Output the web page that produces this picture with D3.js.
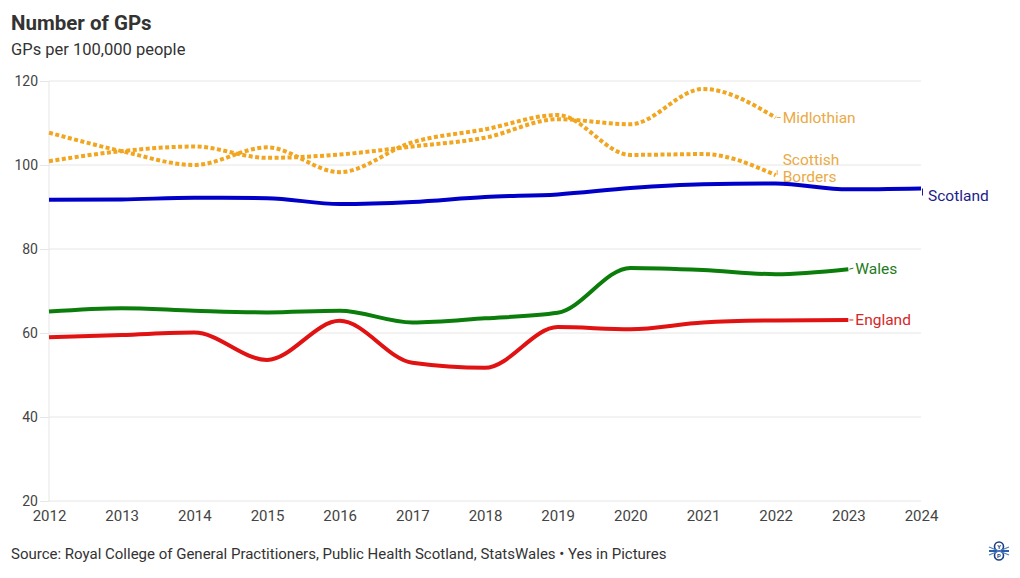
<!DOCTYPE html>
<html>
<head>
<meta charset="utf-8">
<script src="https://cdn.jsdelivr.net/npm/d3@7"></script>
<style>
  body { margin: 0; background: #fff; }
  svg { font-family: Roboto, "Noto Sans", sans-serif; }
</style>
</head>
<body>
<svg id="chart" width="1020" height="578"></svg>
<script>
'use strict';

// GPs per 100,000 people
const yearsScotland = d3.range(2012, 2025);
const yearsUK = d3.range(2012, 2024);
const yearsBoards = d3.range(2012, 2023);

const scotland = [91.7, 91.8, 92.2, 92.1, 90.7, 91.2, 92.4, 93.0, 94.5, 95.4, 95.6, 94.2, 94.4];
const wales = [65.1, 65.9, 65.3, 64.9, 65.3, 62.5, 63.5, 64.8, 75.5, 75.0, 74.0, 75.2];
const england = [59.0, 59.5, 60.1, 53.6, 62.9, 52.9, 51.7, 61.4, 60.9, 62.5, 63.0, 63.1];
const midlothian = [100.9, 103.3, 104.4, 101.7, 102.5, 104.4, 106.5, 110.9, 109.7, 118.1, 111.3];
const borders = [107.7, 103.3, 100.0, 104.2, 98.3, 105.4, 108.5, 111.9, 102.4, 102.6, 97.6];

const yTicks = [20, 40, 60, 80, 100, 120];
const xTicks = d3.range(2012, 2025);

const series = [
  { name: 'Scottish Borders', label: ['Scottish', 'Borders'], years: yearsBoards, values: borders },
  { name: 'Midlothian', label: ['Midlothian'], years: yearsBoards, values: midlothian },
  { name: 'England', label: ['England'], years: yearsUK, values: england },
  { name: 'Wales', label: ['Wales'], years: yearsUK, values: wales },
  { name: 'Scotland', label: ['Scotland'], years: yearsScotland, values: scotland }
];

// styles kept apart from the data
const style = {
  'Scottish Borders': { stroke: '#f2a51f', text: '#eaaa45', dash: '4,2.5', dy: 1.5 },
  'Midlothian': { stroke: '#f2a51f', text: '#eaaa45', dash: '4,2.5', dy: 0 },
  'England': { stroke: '#e01212', text: '#d42828', dash: null, dy: 0 },
  'Wales': { stroke: '#0b7d0b', text: '#217a21', dash: null, dy: -1 },
  'Scotland': { stroke: '#0000c8', text: '#1c1c8a', dash: null, dy: 7 }
};

const svg = d3.select('#chart');
const margin = { top: 81, right: 99, bottom: 77, left: 49 };
const width = 1020, height = 578;

const x = d3.scaleLinear().domain([2012, 2024]).range([margin.left, width - margin.right]);
const y = d3.scaleLinear().domain([20, 120]).range([height - margin.bottom, margin.top]);

/* titles */
svg.append('text')
  .attr('x', 11).attr('y', 30)
  .attr('font-size', 20.5).attr('font-weight', 700).attr('fill', '#333')
  .text('Number of GPs');
svg.append('text')
  .attr('x', 11).attr('y', 55)
  .attr('font-size', 16.5).attr('fill', '#333')
  .text('GPs per 100,000 people');

/* gridlines + y axis */
const yAxis = svg.append('g')
  .attr('transform', 'translate(' + margin.left + ',0)')
  .call(d3.axisLeft(y).tickValues(yTicks).tickSize(9).tickPadding(2)
    .tickSizeOuter(0));
yAxis.select('.domain').remove();
yAxis.selectAll('.tick line').attr('stroke', '#e6e6e6');
yAxis.selectAll('.tick text')
  .attr('font-size', 14).attr('fill', '#444')
  .attr('font-family', 'Roboto, sans-serif');

svg.append('g').selectAll('line')
  .data(yTicks)
  .enter().append('line')
  .attr('x1', margin.left).attr('x2', width - margin.right)
  .attr('y1', d => y(d)).attr('y2', d => y(d))
  .attr('stroke', '#e6e6e6').attr('stroke-width', 1);

svg.append('line')
  .attr('x1', margin.left).attr('x2', margin.left)
  .attr('y1', y(120)).attr('y2', y(20))
  .attr('stroke', '#e6e6e6');

/* x axis */
const xAxis = svg.append('g')
  .attr('transform', 'translate(0,' + y(20) + ')')
  .call(d3.axisBottom(x).tickValues(xTicks).tickFormat(d3.format('d')).tickSize(0).tickPadding(9));
xAxis.select('.domain').remove();
xAxis.selectAll('.tick text')
  .attr('font-size', 15).attr('fill', '#444')
  .attr('font-family', 'Roboto, sans-serif');

/* lines */
const line = d3.line()
  .x(d => x(d[0]))
  .y(d => y(d[1]))
  .curve(d3.curveMonotoneX);

const g = svg.append('g').attr('id', 'lines');
series.forEach(s => {
  const pts = s.years.map((yr, i) => [yr, s.values[i]]);
  const st = style[s.name];
  g.append('path')
    .datum(pts)
    .attr('d', line)
    .attr('fill', 'none')
    .attr('stroke', st.stroke)
    .attr('stroke-width', 4)
    .attr('stroke-linecap', 'butt')
    .attr('stroke-dasharray', st.dash);

  // end label with a short connector
  const last = pts[pts.length - 1];
  const ex = x(last[0]), ey = y(last[1]);
  const ly = ey + st.dy;
  const n = s.label.length;
  const conn = Math.abs(st.dy) > 3 || n > 1
    ? [[ex + 1.5, ey], [ex + 1.5, n > 1 ? ey - 5 : ly]]
    : [[ex + 1, ey], [ex + 5, ly]];
  g.append('line')
    .attr('x1', conn[0][0]).attr('y1', conn[0][1])
    .attr('x2', conn[1][0]).attr('y2', conn[1][1])
    .attr('stroke', st.text).attr('stroke-width', 1);
  const t = g.append('text')
    .attr('x', ex + 7)
    .attr('y', ly)
    .attr('font-size', 15.5)
    .attr('fill', st.text);
  // multi-line labels: last line sits at the line end
  s.label.forEach((l, i) => {
    t.append('tspan')
      .attr('x', ex + 7)
      .attr('y', ly - (n - 1 - i) * 17)
      .attr('dy', '0.35em')
      .text(l);
  });
});

/* source */
svg.append('text')
  .attr('x', 11).attr('y', 559)
  .attr('font-size', 15).attr('fill', '#333')
  .text('Source: Royal College of General Practitioners, Public Health Scotland, StatsWales \u2022 Yes in Pictures');

/* small logo */
const logo = svg.append('g').attr('transform', 'translate(999,551)');
logo.append('line').attr('x1', -10).attr('x2', 10).attr('y1', 0).attr('y2', 0)
  .attr('stroke', '#2a5fa8').attr('stroke-width', 2);
[-4.5, 4.5].forEach(cy => {
  logo.append('circle').attr('cx', 0).attr('cy', cy).attr('r', 4.5)
    .attr('fill', '#fff').attr('stroke', '#1d3f80').attr('stroke-width', 1.6);
});
[[-10, -4], [-10, 4], [10, -4], [10, 4]].forEach(p => {
  logo.append('line').attr('x1', 0).attr('y1', 0).attr('x2', p[0]).attr('y2', p[1])
    .attr('stroke', '#4a7fc8').attr('stroke-width', 1.2);
});
logo.append('text').attr('x', 0).attr('y', -2.2).attr('text-anchor', 'middle')
  .attr('font-size', 6).attr('font-weight', 700).attr('fill', '#1d3f80').text('Y');
logo.append('text').attr('x', 0).attr('y', 6.8).attr('text-anchor', 'middle')
  .attr('font-size', 6).attr('font-weight', 700).attr('fill', '#1d3f80').text('P');
</script>
</body>
</html>
